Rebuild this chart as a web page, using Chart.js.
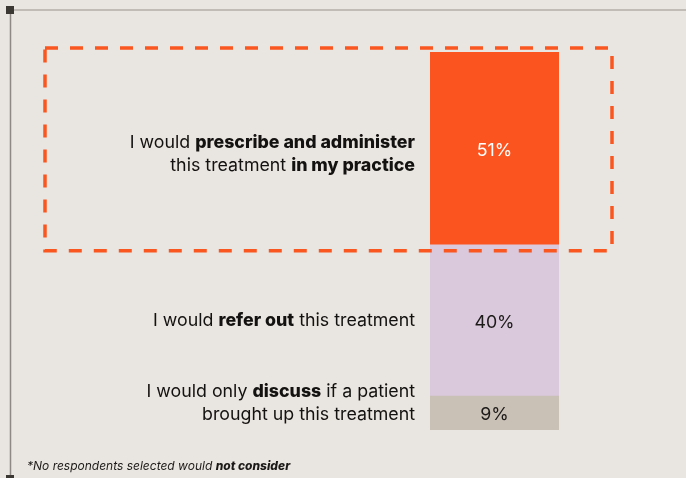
<!DOCTYPE html>
<html>
<head>
<meta charset="utf-8">
<script src="https://cdn.jsdelivr.net/npm/chart.js@4.4.1/dist/chart.umd.min.js"></script>
<style>
  html, body { margin: 0; padding: 0; background: #e9e5e0; }
  #wrap { width: 686px; height: 478px; position: relative; }
</style>
</head>
<body>
<div id="wrap"><canvas id="c" width="686" height="478"></canvas></div>
<script>
// Response shares, top segment first
const responses = ['Prescribe and administer', 'Refer out', 'Only discuss'];
const shares = [51, 40, 9];
const segmentColors = ['#fc541f', '#dac8dc', '#c9c0b6'];
const valueTextColors = ['#ffffff', '#1c1a18', '#1c1a18'];

// Left-hand descriptions: lines of [text, bold] runs
const descriptionLines = [
  [[['I would ', false], ['prescribe and administer', true]],
   [['this treatment ', false], ['in my practice', true]]],
  [[['I would ', false], ['refer out', true], [' this treatment', false]]],
  [[['I would only ', false], ['discuss', true], [' if a patient', false]],
   [['brought up this treatment', false]]]
];
const descriptionShift = [6, 0, -10];

const footnoteRuns = [['*No respondents selected would ', false], ['not consider', true]];

const FONT = 'Inter, "Open Sans", sans-serif';
const LABEL_SIZE = 17.8;

// Stack from the bottom up: last response first
const datasets = responses.map((name, i) => ({
  label: name,
  data: [shares[i]],
  backgroundColor: segmentColors[i],
  borderWidth: 0,
  barPercentage: 1,
  categoryPercentage: 1
})).reverse();

function fontFor(bold, size, italic) {
  return (italic ? 'italic ' : '') + (bold ? '800 ' : '400 ') + size + 'px ' + FONT;
}
function runsWidth(ctx, runs, size, italic) {
  let w = 0;
  runs.forEach(([t, b]) => {
    ctx.font = fontFor(b, size, italic);
    w += ctx.measureText(t).width;
  });
  return w;
}
function drawRuns(ctx, runs, x, y, size, italic) {
  ctx.textAlign = 'left';
  runs.forEach(([t, b]) => {
    ctx.font = fontFor(b, size, italic);
    ctx.fillText(t, x, y);
    x += ctx.measureText(t).width;
  });
}

const decorations = {
  id: 'decorations',
  beforeDatasetsDraw(chart) {
    const ctx = chart.ctx;
    ctx.save();
    // frame lines
    ctx.strokeStyle = '#c1bcb6';
    ctx.lineWidth = 2;
    ctx.beginPath(); ctx.moveTo(10, 10); ctx.lineTo(686, 10); ctx.stroke();
    ctx.strokeStyle = '#8e8984';
    ctx.lineWidth = 1.5;
    ctx.beginPath(); ctx.moveTo(10.5, 10); ctx.lineTo(10.5, 478); ctx.stroke();
    ctx.fillStyle = '#3b3733';
    ctx.fillRect(6, 6, 8, 8);
    ctx.fillRect(6, 475, 8, 8);
    ctx.restore();
  },
  afterDatasetsDraw(chart) {
    const ctx = chart.ctx;
    const y = chart.scales.y;
    const area = chart.chartArea;
    ctx.save();
    ctx.textBaseline = 'middle';

    // segment values and descriptions
    let top = 100;
    shares.forEach((v, i) => {
      const mid = y.getPixelForValue(top - v / 2);
      ctx.fillStyle = valueTextColors[i];
      ctx.font = '400 ' + LABEL_SIZE + 'px ' + FONT;
      ctx.textAlign = 'center';
      ctx.fillText(v + '%', (area.left + area.right) / 2, mid + 2);

      const lines = descriptionLines[i];
      const lh = 23;
      const y0 = mid + descriptionShift[i] - (lines.length - 1) * lh / 2;
      ctx.fillStyle = '#141210';
      lines.forEach((runs, k) => {
        const w = runsWidth(ctx, runs, LABEL_SIZE, false);
        drawRuns(ctx, runs, 415 - w, y0 + k * lh, LABEL_SIZE, false);
      });
      top -= v;
    });

    // dashed highlight around the top segment
    const boxTop = y.getPixelForValue(100) - 4;
    const boxBottom = y.getPixelForValue(100 - shares[0]) + 6;
    ctx.strokeStyle = '#fa5620';
    ctx.lineWidth = 3.5;
    ctx.setLineDash([13, 12]);
    ctx.strokeRect(45, boxTop, 567, boxBottom - boxTop);
    ctx.setLineDash([]);

    // footnote
    ctx.fillStyle = '#1c1a18';
    ctx.textBaseline = 'alphabetic';
    drawRuns(ctx, footnoteRuns, 27, 470, 12, true);
    ctx.restore();
  }
};

new Chart(document.getElementById('c'), {
  type: 'bar',
  data: { labels: ['Response'], datasets },
  options: {
    responsive: false,
    animation: false,
    layout: { padding: { left: 430, right: 127, top: 52, bottom: 48 } },
    scales: {
      x: { stacked: true, display: false },
      y: { stacked: true, display: false, min: 0, max: 100 }
    },
    plugins: { legend: { display: false }, tooltip: { enabled: false } }
  },
  plugins: [decorations]
});
</script>
</body>
</html>
